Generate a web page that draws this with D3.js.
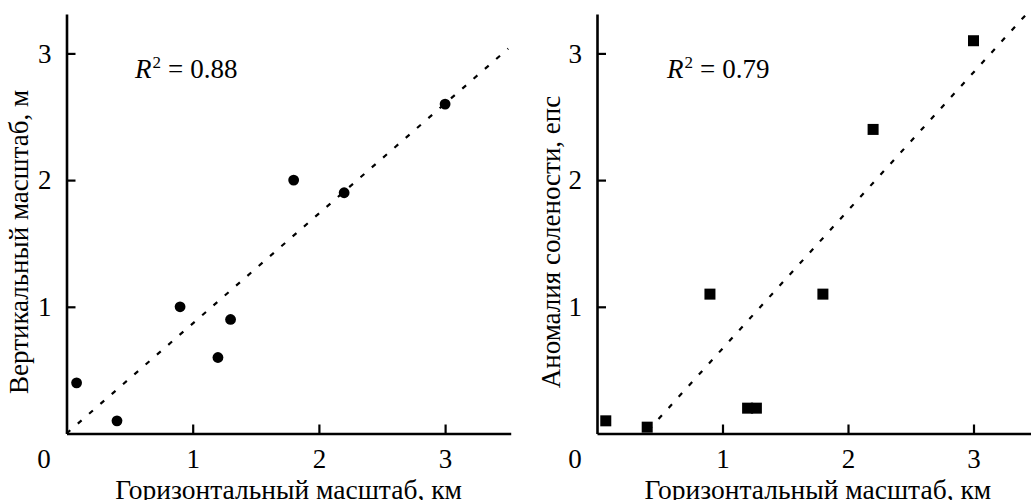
<!DOCTYPE html>
<html>
<head>
<meta charset="utf-8">
<script src="https://cdn.jsdelivr.net/npm/d3@7"></script>
<style>
  html, body { margin: 0; padding: 0; background: #fff; }
  svg { display: block; }
  svg text { font-family: "Liberation Serif", "Times New Roman", serif; fill: #000; }
</style>
</head>
<body>
<svg id="chart" width="1031" height="500"></svg>
<script>
// Horizontal scale of the structures, km
const scaleKmLeft  = [0.08, 0.4, 0.9, 1.2, 1.3, 1.8, 2.2, 3.0];
// Vertical scale, m
const verticalM    = [0.4, 0.1, 1.0, 0.6, 0.9, 2.0, 1.9, 2.6];

const scaleKmRight = [0.07, 0.4, 0.9, 1.2, 1.27, 1.8, 2.2, 3.0];
// Salinity anomaly, psu
const salinityPsu  = [0.1, 0.05, 1.1, 0.2, 0.2, 1.1, 2.4, 3.1];

// Linear fits: slope, intercept and x-extent of the drawn line
const fitLeft  = { slope: 0.868, intercept: 0.0,   from: 0.0,  to: 3.5 };
const fitRight = { slope: 1.09,  intercept: -0.42, from: 0.41, to: 3.43 };

const r2Labels   = ["0.88", "0.79"];
const tickValues = [1, 2, 3];
const xTitle     = "Горизонтальный масштаб, км";
const yTitles    = ["Вертикальный масштаб, м", "Аномалия солености, епс"];

const SERIF = "'Liberation Serif', 'Times New Roman', serif";
const svg = d3.select("#chart");

const panels = [
  { x0: 66.5, xMax: 3.52, unitX: 126.2, xs: scaleKmLeft,  ys: verticalM,   fit: fitLeft,
    r2: r2Labels[0], yTitle: yTitles[0], marker: "circle",
    yTitleX: 28, r2X: 135, zeroX: 44 },
  { x0: 597,  xMax: 3.46, unitX: 125.5, xs: scaleKmRight, ys: salinityPsu, fit: fitRight,
    r2: r2Labels[1], yTitle: yTitles[1], marker: "square",
    yTitleX: 560, r2X: 667, zeroX: 575 }
];

const y0 = 433.5, unitY = 126.7, yMax = 3.31;

panels.forEach(p => {
  const x = d3.scaleLinear().domain([0, p.xMax]).range([p.x0, p.x0 + p.xMax * p.unitX]);
  const y = d3.scaleLinear().domain([0, yMax]).range([y0, y0 - yMax * unitY]);

  const g = svg.append("g");

  // x axis with inward ticks
  const ax = g.append("g")
    .attr("transform", `translate(0,${y0})`)
    .call(d3.axisBottom(x).tickValues(tickValues).tickSizeInner(-9).tickSizeOuter(0).tickPadding(15)
      .tickFormat(d3.format("d")));
  // y axis with inward ticks
  const ay = g.append("g")
    .attr("transform", `translate(${p.x0},0)`)
    .call(d3.axisLeft(y).tickValues(tickValues).tickSizeInner(-9).tickSizeOuter(0).tickPadding(15)
      .tickFormat(d3.format("d")));

  [ax, ay].forEach(a => {
    a.attr("font-family", null).attr("font-size", null);
    a.select(".domain").attr("stroke", "#000").attr("stroke-width", 2.6);
    a.selectAll(".tick line").attr("stroke", "#000").attr("stroke-width", 2.2);
    a.selectAll(".tick text").attr("fill", "#000")
      .style("font-family", SERIF).style("font-size", "27px");
  });

  // origin label
  g.append("text")
    .attr("x", p.zeroX).attr("y", 468)
    .attr("text-anchor", "middle")
    .style("font-size", "27px")
    .text("0");

  // regression line
  const line = d3.line().x(d => x(d)).y(d => y(p.fit.slope * d + p.fit.intercept));
  g.append("path")
    .attr("d", line([p.fit.from, p.fit.to]))
    .attr("fill", "none")
    .attr("stroke", "#000")
    .attr("stroke-width", 2.2)
    .attr("stroke-dasharray", "5,10");

  // data points
  const pts = p.xs.map((v, k) => [v, p.ys[k]]);
  if (p.marker === "circle") {
    g.selectAll("circle.pt").data(pts).join("circle")
      .attr("class", "pt")
      .attr("cx", d => x(d[0])).attr("cy", d => y(d[1]))
      .attr("r", 5.4).attr("fill", "#000");
  } else {
    const s = 11;
    g.selectAll("rect.pt").data(pts).join("rect")
      .attr("class", "pt")
      .attr("x", d => x(d[0]) - s / 2).attr("y", d => y(d[1]) - s / 2)
      .attr("width", s).attr("height", s).attr("fill", "#000");
  }

  // R^2 annotation
  const t = g.append("text")
    .attr("x", p.r2X).attr("y", 78)
    .style("font-size", "27px");
  t.append("tspan").style("font-style", "italic").text("R");
  t.append("tspan").attr("dy", -10).attr("dx", 1).style("font-size", "17px").text("2");
  t.append("tspan").attr("dy", 10).attr("dx", 7).text("=");
  t.append("tspan").attr("dx", 7).text(p.r2);

  // axis titles
  g.append("text")
    .attr("x", p.x0 + 1.76 * p.unitX).attr("y", 499)
    .attr("text-anchor", "middle")
    .style("font-size", "27.5px")
    .text(xTitle);

  g.append("text")
    .attr("transform", `translate(${p.yTitleX},${242}) rotate(-90)`)
    .attr("text-anchor", "middle")
    .style("font-size", "27px")
    .text(p.yTitle);
});
</script>
</body>
</html>
